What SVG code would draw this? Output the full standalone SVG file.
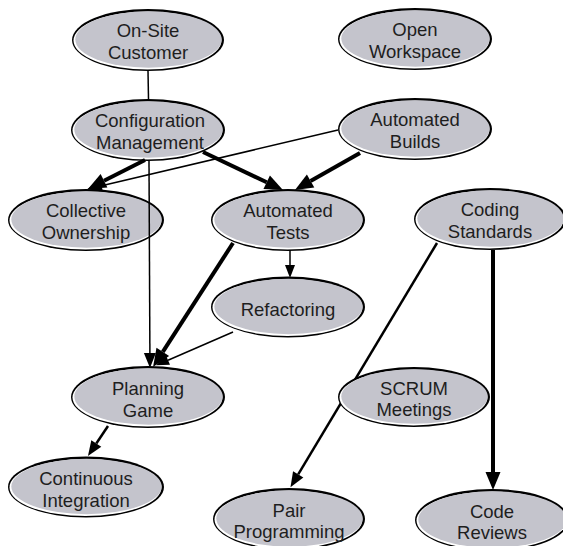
<svg xmlns="http://www.w3.org/2000/svg" width="563" height="546" viewBox="0 0 563 546">
<style>
.o{fill:#000}
.w{fill:#fff}
.f{fill:#c4c4cc}
text{font-family:"Liberation Sans",Arial,sans-serif;font-size:18.5px;fill:#1e1e1e;text-anchor:middle}
.e{fill:none;stroke:#000;stroke-linecap:butt}
.t1{stroke-width:1.5}
.t2{stroke-width:2.5}
.t3{stroke-width:4}
</style>
<defs>
<marker id="ab" markerUnits="userSpaceOnUse" markerWidth="18" markerHeight="15" viewBox="0 0 18 15" refX="0" refY="7.5" orient="auto" overflow="visible"><path d="M0,0 L18,7.5 L0,15 z" fill="#000"/></marker>
<marker id="am" markerUnits="userSpaceOnUse" markerWidth="15" markerHeight="12" viewBox="0 0 15 12" refX="0" refY="6" orient="auto" overflow="visible"><path d="M0,0 L15,6 L0,12 z" fill="#000"/></marker>
<marker id="as" markerUnits="userSpaceOnUse" markerWidth="13" markerHeight="10" viewBox="0 0 13 10" refX="0" refY="5" orient="auto" overflow="visible"><path d="M0,0 L13,5 L0,10 z" fill="#000"/></marker>
</defs>

<g id="n-onsite">
<ellipse class="o" cx="148" cy="40" rx="76" ry="31"/>
<ellipse class="w" cx="147.5" cy="40.5" rx="74" ry="29"/>
<ellipse class="f" cx="148.5" cy="39.5" rx="73.2" ry="28.2"/>
<text x="148" y="37">On-Site</text><text x="148" y="59">Customer</text>
</g>
<g id="n-openws">
<ellipse class="o" cx="415" cy="39" rx="77" ry="31"/>
<ellipse class="w" cx="414.5" cy="39.5" rx="75" ry="29"/>
<ellipse class="f" cx="415.5" cy="38.5" rx="74.2" ry="28.2"/>
<text x="415" y="36">Open</text><text x="415" y="58">Workspace</text>
</g>
<g id="n-config">
<ellipse class="o" cx="148" cy="130" rx="77" ry="31"/>
<ellipse class="w" cx="147.5" cy="130.5" rx="75" ry="29"/>
<ellipse class="f" cx="148.5" cy="129.5" rx="74.2" ry="28.2"/>
<text x="150" y="127">Configuration</text><text x="150" y="149">Management</text>
</g>
<g id="n-builds">
<ellipse class="o" cx="415" cy="129" rx="77" ry="31"/>
<ellipse class="w" cx="414.5" cy="129.5" rx="75" ry="29"/>
<ellipse class="f" cx="415.5" cy="128.5" rx="74.2" ry="28.2"/>
<text x="415" y="126">Automated</text><text x="415" y="148">Builds</text>
</g>
<g id="n-collective">
<ellipse class="o" cx="86" cy="220" rx="78" ry="31"/>
<ellipse class="w" cx="85.5" cy="220.5" rx="76" ry="29"/>
<ellipse class="f" cx="86.5" cy="219.5" rx="75.2" ry="28.2"/>
<text x="86" y="217">Collective</text><text x="86" y="239">Ownership</text>
</g>
<g id="n-autotests">
<ellipse class="o" cx="288" cy="220" rx="77" ry="31"/>
<ellipse class="w" cx="287.5" cy="220.5" rx="75" ry="29"/>
<ellipse class="f" cx="288.5" cy="219.5" rx="74.2" ry="28.2"/>
<text x="288" y="217">Automated</text><text x="288" y="239">Tests</text>
</g>
<g id="n-coding">
<ellipse class="o" cx="490" cy="219" rx="76" ry="31"/>
<ellipse class="w" cx="489.5" cy="219.5" rx="74" ry="29"/>
<ellipse class="f" cx="490.5" cy="218.5" rx="73.2" ry="28.2"/>
<text x="490" y="216">Coding</text><text x="490" y="238">Standards</text>
</g>
<g id="n-refactoring">
<ellipse class="o" cx="288" cy="307" rx="77" ry="30.5"/>
<ellipse class="w" cx="287.5" cy="307.5" rx="75" ry="28.5"/>
<ellipse class="f" cx="288.5" cy="306.5" rx="74.2" ry="27.7"/>
<text x="288" y="316">Refactoring</text>
</g>
<g id="n-planning">
<ellipse class="o" cx="148" cy="397" rx="77" ry="31"/>
<ellipse class="w" cx="147.5" cy="397.5" rx="75" ry="29"/>
<ellipse class="f" cx="148.5" cy="396.5" rx="74.2" ry="28.2"/>
<text x="148" y="395">Planning</text><text x="148" y="417">Game</text>
</g>
<g id="n-ci">
<ellipse class="o" cx="86" cy="487" rx="78" ry="30.5"/>
<ellipse class="w" cx="85.5" cy="487.5" rx="76" ry="28.5"/>
<ellipse class="f" cx="86.5" cy="486.5" rx="75.2" ry="27.7"/>
<text x="86" y="485">Continuous</text><text x="86" y="507">Integration</text>
</g>
<g id="n-pair">
<ellipse class="o" cx="289" cy="519" rx="76" ry="31"/>
<ellipse class="w" cx="288.5" cy="519.5" rx="74" ry="29"/>
<ellipse class="f" cx="289.5" cy="518.5" rx="73.2" ry="28.2"/>
<text x="289" y="517">Pair</text><text x="289" y="538">Programming</text>
</g>
<g id="n-codereviews">
<ellipse class="o" cx="492" cy="520" rx="77" ry="31"/>
<ellipse class="w" cx="491.5" cy="520.5" rx="75" ry="29"/>
<ellipse class="f" cx="492.5" cy="519.5" rx="74.2" ry="28.2"/>
<text x="492" y="518">Code</text><text x="492" y="539">Reviews</text>
</g>

<g id="connectors">
<path class="e t1" d="M148,71 L148.5,99"/>
<path class="e t1" d="M149,161 L149.9,353" marker-end="url(#am)"/>
<path class="e t1" d="M338,130 L101.6,185.8" marker-end="url(#am)"/>
<path class="e t3" d="M145,160 L104,180.8" marker-end="url(#ab)"/>
<path class="e t3" d="M203,152 L266.7,182.3" marker-end="url(#ab)"/>
<path class="e t3" d="M360,153 L310.6,181.1" marker-end="url(#ab)"/>
<path class="e t1" d="M290,250 L290,265" marker-end="url(#as)"/>
<path class="e t3" d="M233,243 L162.8,351.9" marker-end="url(#ab)"/>
<path class="e t1" d="M233,332 L168,360.2" marker-end="url(#as)"/>
<path class="e t2" d="M108,426 L96.3,443.5" marker-end="url(#am)"/>
<path class="e t2" d="M437,243 L298.2,474.3" marker-end="url(#am)"/>
<path class="e t3" d="M493,250 L493,472" marker-end="url(#ab)"/>
</g>

<g id="n-scrum">
<ellipse class="o" cx="414" cy="397" rx="76" ry="30"/>
<ellipse class="w" cx="413.5" cy="397.5" rx="74" ry="28"/>
<ellipse class="f" cx="414.5" cy="396.5" rx="73.2" ry="27.2"/>
<text x="414" y="395">SCRUM</text><text x="414" y="416">Meetings</text>
</g>
</svg>
